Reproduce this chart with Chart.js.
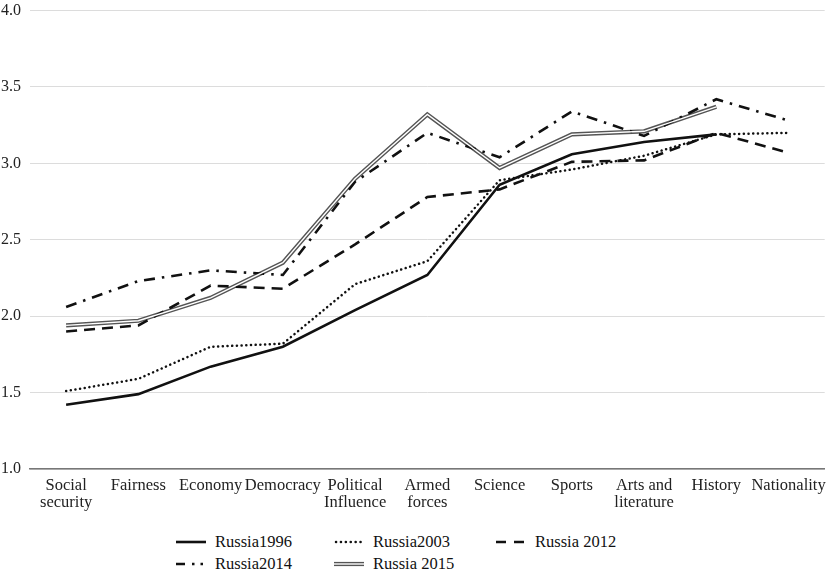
<!DOCTYPE html>
<html>
<head>
<meta charset="utf-8">
<script src="https://cdn.jsdelivr.net/npm/chart.js@4/dist/chart.umd.min.js"></script>
<style>
  html, body { margin: 0; padding: 0; background: #fff; overflow: hidden; }
  #wrap { position: relative; width: 834px; height: 574px; overflow: hidden; }
  #cv { position: absolute; left: 0; top: -8px; }
  .leg { position: absolute; font-family: "Liberation Serif", serif; font-size: 16.5px; color: #111; height: 20px; line-height: 20px; white-space: nowrap; }
  .leg svg { position: absolute; left: 0; top: 4px; }
  .leg span { position: absolute; left: 40px; top: 0; }
</style>
</head>
<body>
<div id="wrap">
  <canvas id="cv" width="834" height="520"></canvas>
  <div id="legend"></div>
</div>
<script>
const categories = [["Social","security"],"Fairness","Economy","Democracy",["Political","Influence"],["Armed","forces"],"Science","Sports",["Arts and","literature"],"History","Nationality"];
const seriesNames = ["Russia1996","Russia2003","Russia 2012","Russia2014","Russia 2015"];
const russia1996 = [1.42,1.49,1.67,1.80,2.04,2.27,2.86,3.06,3.14,3.19,null];
const russia2003 = [1.51,1.59,1.80,1.82,2.21,2.36,2.89,2.96,3.05,3.19,3.20];
const russia2012 = [1.90,1.94,2.20,2.18,2.47,2.78,2.83,3.01,3.02,3.20,3.07];
const russia2014 = [2.06,2.23,2.30,2.27,2.88,3.20,3.04,3.34,3.18,3.42,3.28];
const russia2015 = [1.94,1.97,2.12,2.35,2.90,3.32,2.97,3.19,3.21,3.37,null];
const yTicks = [1.0,1.5,2.0,2.5,3.0,3.5,4.0];

const styles = [
  {color:'#111', width:2.6, dash:[], legDash:''},
  {color:'#111', width:2.5, dash:[0.1,4.6], legDash:'0.1,4.8'},
  {color:'#111', width:2.6, dash:[11,7], legDash:'10,8,10,10'},
  {color:'#111', width:2.6, dash:[11,7,2.5,7], legDash:'9,7,2.5,6,2.5,20'},
  {color:'#555', width:4.2, dash:[], legDash:''}
];
const seriesData = [russia1996, russia2003, russia2012, russia2014, russia2015];

const datasets = seriesData.map((d,i) => ({
  label: seriesNames[i],
  data: d,
  borderColor: styles[i].color,
  borderWidth: styles[i].width,
  borderDash: styles[i].dash,
  borderCapStyle: i===1 ? 'round' : 'butt',
  pointRadius: 0,
  tension: 0,
  fill: false,
  spanGaps: false,
  order: 2
}));
// inner white stroke for the double line of Russia 2015
datasets.push({
  label: 'Russia 2015 inner',
  data: russia2015,
  borderColor: '#fff',
  borderWidth: 1.4,
  pointRadius: 0,
  tension: 0,
  fill: false,
  order: 1
});

new Chart(document.getElementById('cv'), {
  type: 'line',
  data: { labels: categories, datasets },
  options: {
    responsive: false,
    animation: false,
    devicePixelRatio: 1,
    layout: { padding: { top: 2, right: 7, left: 0, bottom: 0 } },
    plugins: { legend: { display: false }, tooltip: { enabled: false } },
    scales: {
      x: {
        offset: true,
        grid: { display: false, drawTicks: false },
        border: { display: true, color: '#777', width: 1.5 },
        ticks: { color: '#222', font: { family: 'Liberation Serif', size: 16.5, lineHeight: 1.05 }, padding: 8, maxRotation: 0, autoSkip: false },
        afterFit: s => { s.height = 43; }
      },
      y: {
        min: 1, max: 4,
        afterBuildTicks: s => { s.ticks = yTicks.map(v => ({value: v})); },
        grid: { color: '#dcdcdc', lineWidth: 1, drawTicks: false },
        border: { display: false },
        ticks: { color: '#222', font: { family: 'Liberation Serif', size: 16 }, padding: 9, callback: v => Number(v).toFixed(1) },
        afterFit: s => { s.width = 30; }
      }
    }
  }
});

// legend
const legendPos = [[175,542],[333,542],[495,542],[175,564],[333,564]];
const lg = document.getElementById('legend');
seriesNames.forEach((n,i) => {
  const [x,y] = legendPos[i];
  const st = styles[i];
  let svg;
  if (i === 4) {
    svg = `<svg width="32" height="12"><line x1="1" y1="6" x2="31" y2="6" stroke="#555" stroke-width="4.2"/><line x1="1" y1="6" x2="31" y2="6" stroke="#fff" stroke-width="1.4"/></svg>`;
  } else {
    svg = `<svg width="32" height="12"><line x1="${i===1?3:1}" y1="6" x2="31" y2="6" stroke="#111" stroke-width="${st.width}" stroke-dasharray="${st.legDash}" stroke-linecap="${i===1?'round':'butt'}"/></svg>`;
  }
  const d = document.createElement('div');
  d.className = 'leg';
  d.style.left = x + 'px';
  d.style.top = (y - 10) + 'px';
  d.innerHTML = svg + `<span>${n}</span>`;
  lg.appendChild(d);
});
</script>
</body>
</html>
